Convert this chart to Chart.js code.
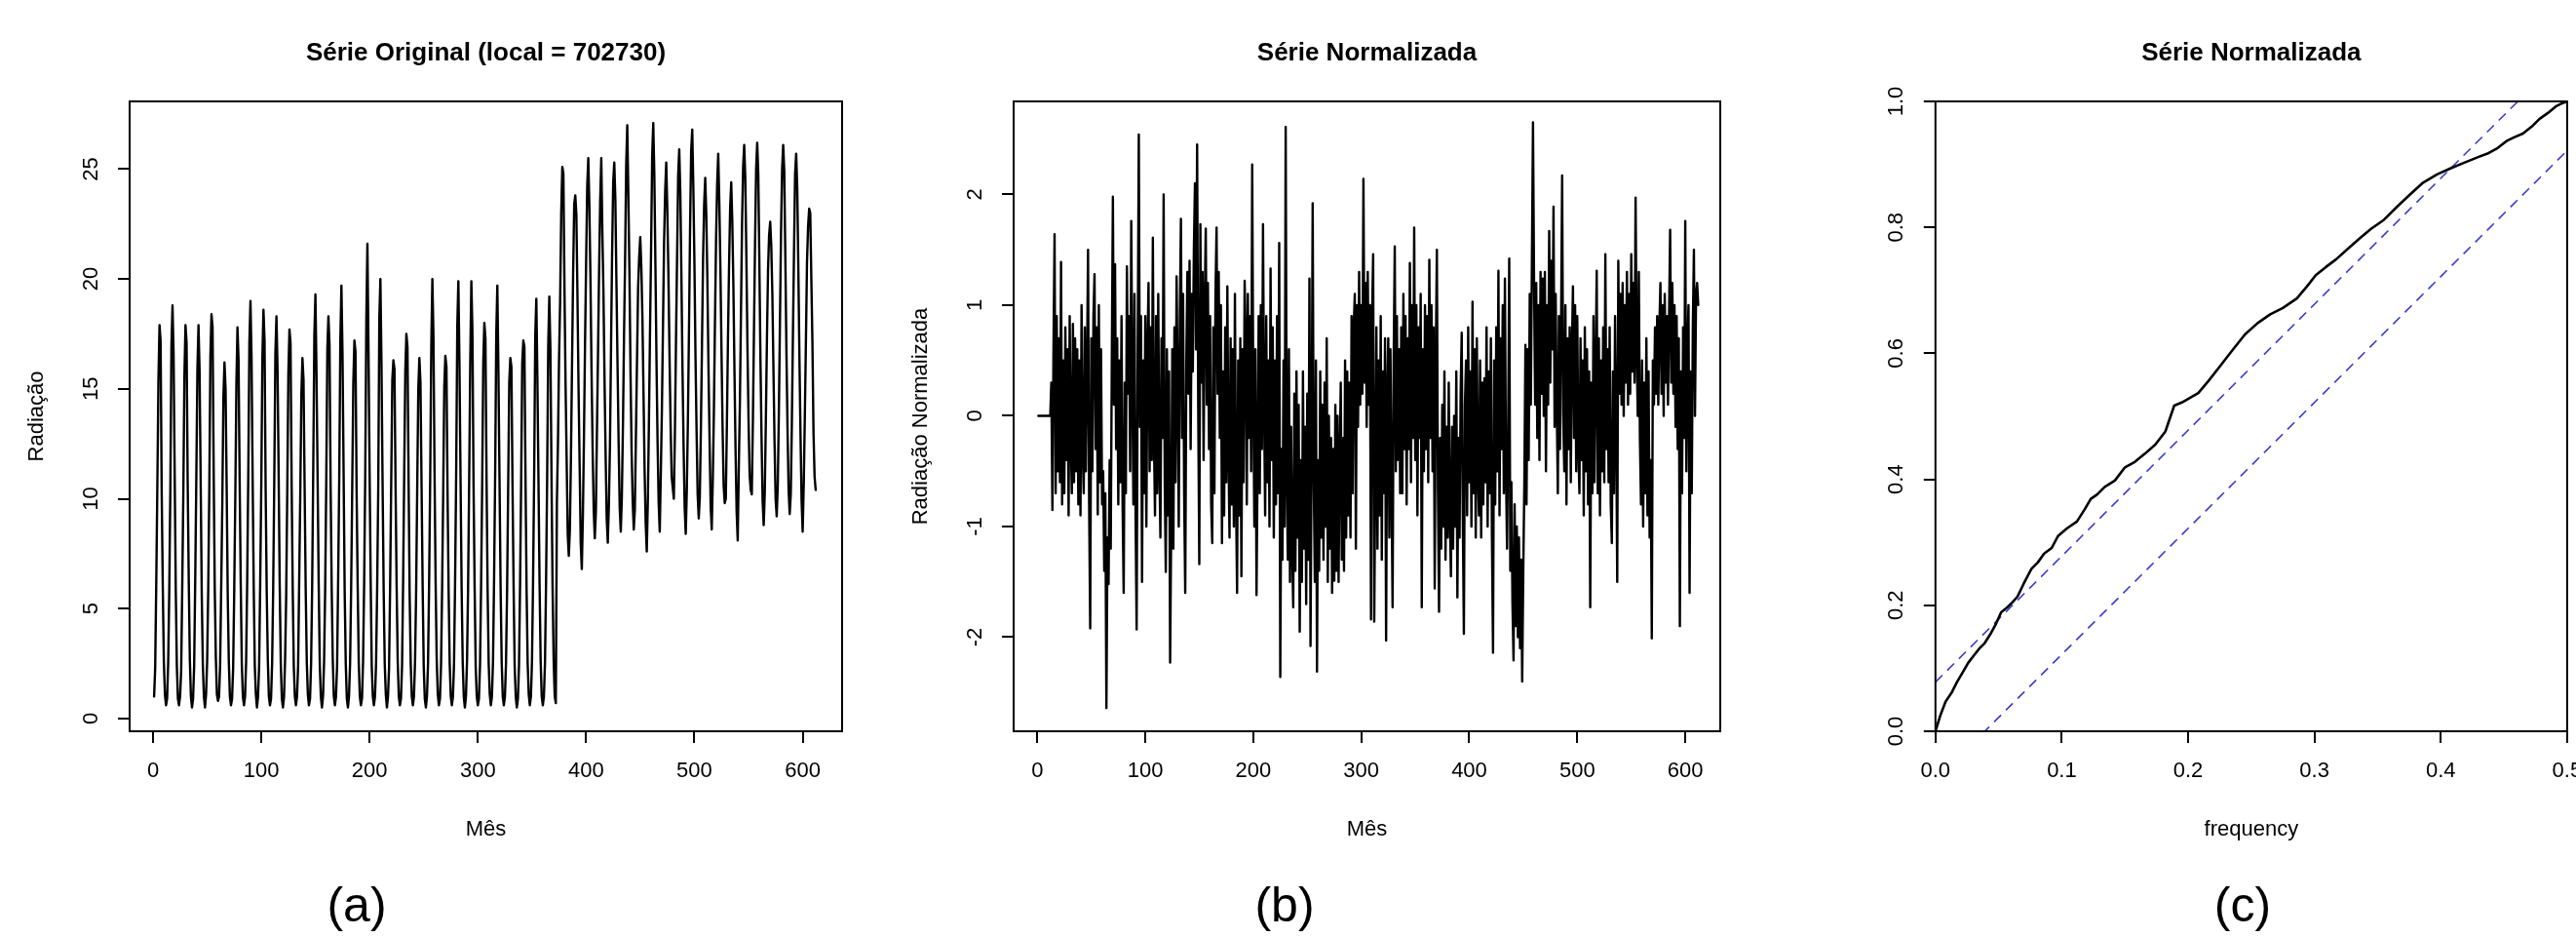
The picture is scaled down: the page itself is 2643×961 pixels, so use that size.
<!DOCTYPE html>
<html>
<head>
<meta charset="utf-8">
<script src="https://cdn.jsdelivr.net/npm/chart.js"></script>
<style>
html,body{margin:0;padding:0;background:#fff;overflow:hidden;}
#wrap{position:relative;width:2643px;height:961px;overflow:hidden;background:#fff;}
canvas{position:absolute;top:0;}
.lab{position:absolute;font-family:"Liberation Sans",Arial,Helvetica,sans-serif;font-size:50px;color:#000;transform:translate(-50%,-50%);line-height:1;white-space:nowrap;}
</style>
</head>
<body>
<div id="wrap">
  <canvas id="ca" width="984" height="961" style="left:0px;width:984px;height:961px"></canvas>
  <canvas id="cb" width="1000" height="961" style="left:895px;width:1000px;height:961px"></canvas>
  <canvas id="cc" width="826" height="961" style="left:1900px;width:826px;height:961px"></canvas>
  <div class="lab" style="left:366px;top:928px">(a)</div>
  <div class="lab" style="left:1318px;top:928px">(b)</div>
  <div class="lab" style="left:2301px;top:928px">(c)</div>
</div>
<script>
// ---------- DATA ----------
// (a) Série original: radiação mensal, 51 anos x 12 meses
const radiacao = [
1.0,2.3,6.2,10.6,15.4,17.9,17.2,10.4,6.1,2.6,1.1,0.6,
0.9,2.5,5.8,10.4,16.9,18.8,16.6,11.2,5.9,2.4,0.9,0.6,
1.0,2.2,6.0,10.3,15.6,17.9,17.1,10.8,6.3,2.7,1.0,0.5,
0.9,2.4,6.4,11.0,15.9,17.9,15.8,10.9,5.7,2.5,1.0,0.5,
1.1,2.6,5.9,10.5,16.5,18.4,17.8,11.4,6.0,2.8,1.1,0.8,
1.0,2.5,6.1,9.8,14.6,16.2,15.0,10.6,5.6,2.6,1.0,0.6,
0.9,2.3,5.8,10.1,15.2,17.8,16.3,10.9,6.2,2.5,1.0,0.6,
1.0,2.6,6.3,11.2,17.1,19.0,16.4,11.0,6.0,2.4,1.1,0.5,
1.0,2.4,6.2,10.7,16.4,18.6,17.2,10.5,5.8,2.7,1.0,0.6,
0.9,2.5,6.0,10.9,16.6,18.3,15.9,11.3,6.1,2.5,0.9,0.5,
1.0,2.7,5.6,10.4,15.7,17.7,17.1,10.8,6.0,2.4,1.0,0.6,
1.0,2.4,6.3,10.2,14.7,16.4,15.4,10.6,5.9,2.6,1.1,0.6,
0.9,2.5,6.1,11.5,17.4,19.3,15.6,11.0,6.2,2.5,1.0,0.5,
1.0,2.6,5.9,10.8,16.8,18.3,17.0,10.7,6.0,2.7,1.0,0.6,
1.0,2.4,6.4,11.0,17.2,19.7,16.6,11.3,5.8,2.5,0.9,0.5,
1.0,2.5,6.0,10.6,15.3,17.2,16.7,10.5,6.1,2.6,1.0,0.6,
0.9,2.6,6.2,11.1,18.1,21.6,16.8,11.4,6.3,2.4,1.0,0.6,
1.0,2.5,5.9,10.4,18.2,20.0,16.1,10.8,5.9,2.5,1.1,0.5,
1.0,2.3,6.1,10.8,15.4,16.3,15.9,10.6,6.0,2.6,1.0,0.6,
0.9,2.4,6.3,11.2,15.8,17.5,16.9,11.0,5.7,2.5,1.0,0.6,
1.0,2.6,5.8,10.5,15.0,16.4,15.3,10.7,6.1,2.4,0.9,0.5,
1.0,2.5,6.2,11.0,16.9,20.0,17.4,11.2,6.2,2.7,1.1,0.6,
0.9,2.4,5.9,10.3,15.1,16.5,16.0,10.4,5.8,2.5,1.0,0.6,
1.0,2.5,6.3,11.3,17.8,19.9,16.2,11.0,6.0,2.6,1.0,0.5,
1.0,2.6,6.0,10.9,16.3,19.9,17.6,10.8,6.1,2.4,1.0,0.6,
0.9,2.4,6.1,10.6,16.2,18.0,17.3,11.1,5.9,2.5,1.1,0.6,
1.0,2.6,6.4,11.2,17.5,19.7,15.8,10.9,6.0,2.6,1.0,0.6,
1.0,2.5,5.8,10.5,15.3,16.4,16.0,10.7,6.1,2.4,1.0,0.5,
0.9,2.4,6.1,10.8,16.2,17.2,16.9,11.0,5.9,2.5,1.1,0.6,
1.0,2.6,6.3,11.1,17.4,19.1,15.4,10.8,6.1,2.6,1.0,0.6,
1.0,2.5,6.2,10.9,17.0,19.2,16.8,11.2,6.0,2.7,1.0,0.7,
9.8,12.6,16.4,19.0,23.0,25.1,24.8,19.6,15.2,11.8,8.4,7.4,
8.6,12.0,16.2,20.3,23.4,23.8,22.9,19.2,15.0,11.5,8.0,6.8,
9.2,12.8,17.1,20.8,24.2,25.5,23.3,20.0,15.8,12.3,9.5,8.2,
9.4,13.1,16.7,20.5,23.6,25.5,22.1,19.4,15.4,12.0,9.1,8.0,
9.7,12.4,16.9,21.2,24.4,25.3,23.6,19.8,16.1,12.6,9.6,8.5,
10.1,13.3,17.4,20.9,25.2,27.0,23.8,20.3,15.7,12.2,9.9,8.6,
9.5,12.9,16.3,19.6,21.0,21.9,20.5,18.2,14.8,11.3,8.9,7.6,
9.9,13.5,17.6,21.4,25.6,27.1,24.7,20.6,16.2,12.5,9.8,8.5,
11.2,14.1,17.9,21.7,24.0,25.3,23.1,20.2,16.6,13.4,11.0,10.5,
10.0,13.0,17.2,21.0,24.7,25.9,23.9,20.1,15.9,12.4,9.6,8.4,
10.4,13.6,17.7,22.3,25.8,26.8,24.2,20.8,16.5,13.1,10.2,9.1,
10.1,13.2,17.0,20.9,23.4,24.6,22.9,19.9,16.0,12.7,9.7,8.6,
10.9,14.0,18.1,21.8,24.3,25.7,23.5,20.5,16.8,13.3,10.6,9.8,
10.0,13.4,17.3,20.6,23.2,24.4,22.6,19.7,15.8,12.2,9.4,8.1,
11.4,14.3,18.4,22.5,25.1,26.1,24.6,21.0,16.9,13.6,11.1,10.4,
10.2,13.5,17.6,21.6,25.0,26.2,24.8,20.7,16.3,12.8,9.9,8.8,
10.3,13.6,17.3,20.4,22.0,22.6,21.5,19.3,15.9,12.6,10.0,9.2,
10.6,13.9,18.0,22.1,25.0,26.1,24.9,20.9,16.7,13.2,10.4,9.3,
10.2,13.4,17.5,21.3,24.8,25.7,24.1,20.4,16.4,12.9,9.9,8.5,
10.7,13.8,17.2,20.8,22.4,23.2,23.0,20.0,17.1,13.0,11.0,10.4
];

// (b) Série normalizada (mesmos meses)
const radNormalizada = [
0,0,0,0,0,0,0,0,0,0,0,0,
0.3,-0.85,0.6,1.64,-0.7,0.9,-0.5,0.7,-0.6,1.39,-0.8,0.5,
-0.7,0.8,-0.4,0.6,-0.9,0.9,-0.2,-0.7,0.83,-0.6,0.7,-0.5,
0.6,-0.8,0.5,-0.9,1.0,-0.3,-0.7,0.8,-0.5,0.4,1.5,-0.8,
-1.92,0.7,-0.5,0.9,1.28,-0.3,0.8,-0.89,1.0,-0.6,0.6,-0.8,
-0.5,-1.4,-0.7,-2.64,-1.1,-1.52,-0.4,-1.2,0.5,1.98,0.1,1.37,
-0.3,0.7,-0.8,0.5,-0.6,0.9,-0.8,-1.6,0.3,-0.7,1.35,0.2,
0.9,-0.5,1.76,0.3,-0.8,1.1,-0.9,-1.93,0.6,2.54,-0.1,0.9,
-1.5,0.5,-0.7,0.9,-1.0,0.6,1.2,-0.5,0.8,-0.4,1.61,-0.2,
-0.9,0.9,-0.7,1.1,-0.4,-1.1,0.7,-0.2,2.0,-0.6,-1.41,0.6,
-0.9,0.4,-2.23,-1.0,0.6,-1.2,0.8,-0.6,1.26,0.3,-1.0,0.9,
1.78,-0.2,1.1,-0.7,-1.6,0.5,1.3,0.2,1.4,-0.3,1.1,0.4,
1.5,2.1,0.6,2.45,0.1,-1.34,1.73,0.3,1.3,-0.4,1.0,1.69,
0.1,1.2,-0.3,0.9,-0.8,-1.15,0.8,-0.7,1.1,1.7,0.2,1.3,
-0.2,1.0,-1.15,0.4,-0.9,0.8,-0.6,1.17,-0.3,-1.1,0.7,-0.8,
0.6,-1.0,1.1,-0.7,-1.6,0.5,-0.9,0.7,-1.45,0.6,-0.6,1.22,
0.7,-0.8,1.1,-0.2,0.9,-0.5,2.27,0.2,-1.0,0.6,-1.62,-0.4,
0.9,-0.7,1.0,-0.3,1.73,0.1,-0.9,0.9,-0.6,0.5,-1.0,1.33,
-0.4,0.8,-1.1,0.5,-0.8,0.9,-0.7,1.56,-2.36,-0.3,-1.3,0.5,
-1.0,2.61,-0.5,-1.3,0.6,-1.5,-0.1,-1.2,-1.73,0.2,-1.4,0.4,
-1.1,0.1,-1.95,-0.4,-1.5,0.4,-1.2,-0.1,-1.7,0.2,-1.3,1.24,
-2.08,-0.3,1.92,-0.6,-1.5,0.5,-2.31,-0.4,-1.4,0.4,-1.1,0.1,
-1.3,0.3,-1.0,0.7,-1.5,0.0,-1.2,-0.2,-1.6,-0.3,-1.49,0.1,
-1.4,0.0,-1.5,-0.4,0.3,-1.3,-0.2,-1.4,0.5,-1.1,0.4,-0.9,
0.3,-1.1,0.9,-0.7,0.8,1.1,-1.2,1.0,-0.1,1.3,0.1,1.0,
0.2,2.14,0.3,1.2,-0.1,1.3,0.1,1.0,-1.84,0.9,1.46,-1.86,
-0.5,0.8,-1.2,0.5,-0.9,0.9,-1.3,0.4,-0.7,0.7,-2.03,0.2,
0.7,-1.1,0.6,-0.6,-1.73,0.5,1.53,-0.5,0.9,-0.4,0.6,-0.7,
0.8,-0.7,1.1,-0.3,0.9,-0.8,0.7,-0.3,1.38,-0.6,1.0,-0.2,
1.7,-0.4,1.0,-0.9,0.8,-0.2,1.1,-1.73,0.6,-0.5,1.0,-0.3,
0.9,-0.6,1.41,-0.2,1.0,-0.5,0.8,-1.56,0.5,1.5,-0.7,-1.77,
-0.2,-1.2,0.1,-1.0,0.4,-1.3,-0.1,-1.1,0.3,-0.9,-1.45,-0.1,
-1.2,0.0,-1.0,0.4,-1.64,-0.2,-1.1,0.2,0.75,-0.9,-1.97,0.1,
0.5,-0.9,0.8,-0.6,0.4,-1.0,1.03,-0.7,0.6,-1.1,0.7,-0.5,
-0.9,0.5,-1.1,0.3,-0.8,0.34,-0.6,0.8,-1.0,0.4,-0.7,0.7,
-1.1,-2.14,0.5,-0.8,0.8,-0.5,1.31,-0.9,0.7,-0.3,1.0,-0.7,
1.24,-0.5,-1.2,-0.1,1.42,-1.4,-0.6,-1.7,-2.21,-0.8,-1.9,-1.0,
-2.0,-1.1,-2.1,-1.3,-2.4,-1.4,-0.6,0.64,-0.8,0.6,-0.4,1.1,
0.1,1.4,2.65,1.2,0.1,1.2,-0.2,1.0,-0.4,1.3,0.2,1.24,
0.0,1.3,-0.5,1.0,0.1,1.67,0.3,1.4,0.6,1.89,-0.1,1.1,
0.1,-0.7,0.9,-0.3,0.8,2.17,0.0,-0.5,1.0,-0.8,0.7,-0.3,
0.8,-0.6,0.6,1.17,-0.2,1.0,-0.5,0.9,-0.3,-0.7,0.7,-0.4,
0.5,-0.9,0.8,-0.5,0.6,-0.8,0.4,-1.73,0.3,-0.7,0.9,-0.6,
0.4,1.31,-0.7,0.7,-0.9,0.5,-0.5,0.8,-0.6,1.46,-0.3,0.6,
-0.6,0.8,-0.8,-1.15,0.4,-0.7,0.9,0.0,-1.5,1.4,0.2,1.1,
0.1,1.2,0.0,1.0,0.3,1.3,0.1,1.1,0.2,1.46,0.4,1.2,
0.3,1.97,0.6,0.0,1.3,-0.2,-0.8,0.5,-1.0,0.3,-0.7,0.7,
-0.9,0.4,-1.1,-0.4,-2.01,0.5,0.1,0.8,0.2,0.9,0.1,0.8,
1.2,0.2,1.0,0.0,1.1,0.3,0.9,0.1,0.9,1.68,0.3,1.2,
0.2,1.0,-0.1,0.9,-0.3,0.7,-1.9,0.4,-0.7,0.8,-0.2,1.76,
-0.5,0.6,1.0,-1.6,0.4,-0.7,0.8,1.5,0.0,1.1,1.2,1.0
];

// (c) Periodograma acumulado
const cpFreq = [
0,0.004,0.008,0.013,0.017,0.022,0.026,0.031,0.035,0.039,
0.044,0.048,0.052,0.057,0.061,0.065,0.070,0.076,0.081,0.086,
0.092,0.097,0.104,0.112,0.118,0.123,0.128,0.134,0.142,0.150,
0.158,0.166,0.174,0.182,0.189,0.195,0.202,0.208,0.216,0.225,
0.235,0.245,0.255,0.265,0.275,0.286,0.294,0.301,0.309,0.317,
0.327,0.336,0.345,0.355,0.365,0.375,0.386,0.397,0.408,0.419,
0.430,0.438,0.445,0.452,0.458,0.465,0.472,0.478,0.485,0.491,
0.496,0.500
];
const cpAcumulado = [
0,0.026,0.047,0.062,0.078,0.095,0.109,0.122,0.132,0.140,
0.156,0.171,0.189,0.197,0.205,0.214,0.235,0.258,0.268,0.282,
0.291,0.310,0.322,0.333,0.352,0.369,0.376,0.388,0.398,0.419,
0.428,0.441,0.455,0.476,0.517,0.522,0.530,0.537,0.556,0.579,
0.605,0.630,0.648,0.662,0.672,0.687,0.706,0.724,0.737,0.749,
0.767,0.783,0.798,0.812,0.832,0.851,0.871,0.884,0.894,0.903,
0.912,0.918,0.926,0.937,0.943,0.949,0.960,0.972,0.982,0.992,
0.997,1.0
];
// bandas de confiança (extremos)
const bandaSupX = [0, 0.5];
const bandaSupY = [0.078, 1.078];
const bandaInfX = [0, 0.5];
const bandaInfY = [-0.078, 0.922];

// tick labels
const mesTicks = [0,100,200,300,400,500,600];
const radTicks = [0,5,10,15,20,25];
const normTicks = [-2,-1,0,1,2];
const freqTicks = [0,0.1,0.2,0.3,0.4,0.5];
const freqTickLabels = ['0.0','0.1','0.2','0.3','0.4','0.5'];
const cumTicks = [0,0.2,0.4,0.6,0.8,1.0];
const cumTickLabels = ['0.0','0.2','0.4','0.6','0.8','1.0'];

// ---------- RENDER ----------
const FONT = '"Liberation Sans", Arial, Helvetica, sans-serif';
const TICK_SIZE = 22;
const TITLE_SIZE = 26;

function maxW(labels, size){
  const c = document.createElement('canvas').getContext('2d');
  c.font = size + 'px ' + FONT;
  return Math.max.apply(null, labels.map(l => c.measureText(String(l)).width));
}

const boxPlugin = {
  id: 'rbox',
  afterDraw(chart){
    const {ctx, chartArea: a} = chart;
    ctx.save();
    ctx.strokeStyle = '#000';
    ctx.lineWidth = 2;
    ctx.strokeRect(a.left, a.top, a.right - a.left, a.bottom - a.top);
    ctx.restore();
  }
};

const gridOpts = {display: true, drawOnChartArea: false, drawTicks: true, tickLength: 12, color: '#000', lineWidth: 2};

function xScale(min, max, ticks, labels, title){
  return {
    type: 'linear', min: min, max: max,
    afterBuildTicks: s => { s.ticks = ticks.map(v => ({value: v})); },
    afterFit: s => { s.height = 211; },
    ticks: {autoSkip: false, minRotation: 0, maxRotation: 0, padding: 15.8, color: '#000',
      font: {family: FONT, size: TICK_SIZE},
      callback: (v, i) => labels[i]},
    grid: gridOpts,
    border: {display: false},
    title: {display: true, text: title, color: '#000', font: {family: FONT, size: TICK_SIZE, lineHeight: 1.2},
      padding: {top: 0, bottom: 97}}
  };
}
function yScale(min, max, ticks, labels, width, title, titlePad){
  const w = maxW(labels, TICK_SIZE);
  return {
    type: 'linear', min: min, max: max,
    afterBuildTicks: s => { s.ticks = ticks.map(v => ({value: v})); },
    afterFit: s => { s.width = width; },
    ticks: {autoSkip: false, minRotation: 90, maxRotation: 90, crossAlign: 'center',
      padding: 27.5 - w / 2, color: '#000',
      font: {family: FONT, size: TICK_SIZE},
      callback: (v, i) => labels[i]},
    grid: gridOpts,
    border: {display: false},
    title: {display: !!title, text: title || '', color: '#000', font: {family: FONT, size: TICK_SIZE, lineHeight: 1.2},
      padding: {top: titlePad, bottom: 0}}
  };
}
function titleOpts(text){
  return {display: true, fullSize: false, text: text, color: '#000',
    font: {family: FONT, size: TITLE_SIZE, weight: 'bold', lineHeight: 1.2},
    padding: {top: 39.4, bottom: 33.4}};
}
const lineDs = (data, w) => ({data: data, borderColor: '#000', borderWidth: w, pointRadius: 0,
  tension: 0, fill: false, borderJoinStyle: 'round', borderCapStyle: 'round'});

const meses = radiacao.map((v, i) => i + 1);

// (a)
new Chart(document.getElementById('ca'), {
  type: 'line',
  data: {datasets: [lineDs(radiacao.map((v, i) => ({x: meses[i], y: v})), 2.4)]},
  options: {
    responsive: false, animation: false, events: [],
    layout: {padding: {left: 0, right: 120, top: 0, bottom: 0}},
    plugins: {legend: {display: false}, tooltip: {enabled: false}, title: titleOpts('Série Original (local = 702730)')},
    scales: {
      x: xScale(-21.6, 636.4, mesTicks, mesTicks.map(String), 'Mês'),
      y: yScale(-0.58, 28.08, radTicks, radTicks.map(String), 133, 'Radiação', 24.8)
    }
  },
  plugins: [boxPlugin]
});

// (b)
new Chart(document.getElementById('cb'), {
  type: 'line',
  data: {datasets: [lineDs(radNormalizada.map((v, i) => ({x: meses[i], y: v})), 2.4)]},
  options: {
    responsive: false, animation: false, events: [],
    layout: {padding: {left: 0, right: 130, top: 0, bottom: 0}},
    plugins: {legend: {display: false}, tooltip: {enabled: false}, title: titleOpts('Série Normalizada')},
    scales: {
      x: xScale(-21.9, 632.4, mesTicks, mesTicks.map(String), 'Mês'),
      y: yScale(-2.85, 2.84, normTicks, normTicks.map(String), 145, 'Radiação Normalizada', 36.8)
    }
  },
  plugins: [boxPlugin]
});

// (c)
new Chart(document.getElementById('cc'), {
  type: 'line',
  data: {datasets: [
    lineDs(cpFreq.map((f, i) => ({x: f, y: cpAcumulado[i]})), 2.6),
    {data: bandaSupX.map((f, i) => ({x: f, y: bandaSupY[i]})), borderColor: '#3b3bd0', borderWidth: 1.6,
      borderDash: [10, 7], pointRadius: 0, tension: 0, fill: false},
    {data: bandaInfX.map((f, i) => ({x: f, y: bandaInfY[i]})), borderColor: '#3b3bd0', borderWidth: 1.6,
      borderDash: [10, 7], pointRadius: 0, tension: 0, fill: false}
  ]},
  options: {
    responsive: false, animation: false, events: [],
    layout: {padding: {left: 0, right: 92.1, top: 0, bottom: 0}},
    plugins: {legend: {display: false}, tooltip: {enabled: false}, title: titleOpts('Série Normalizada')},
    scales: {
      x: xScale(0, 0.5, freqTicks, freqTickLabels, 'frequency'),
      y: yScale(0, 1, cumTicks, cumTickLabels, 85.8, null, 0)
    }
  },
  plugins: [boxPlugin]
});
</script>
</body>
</html>
